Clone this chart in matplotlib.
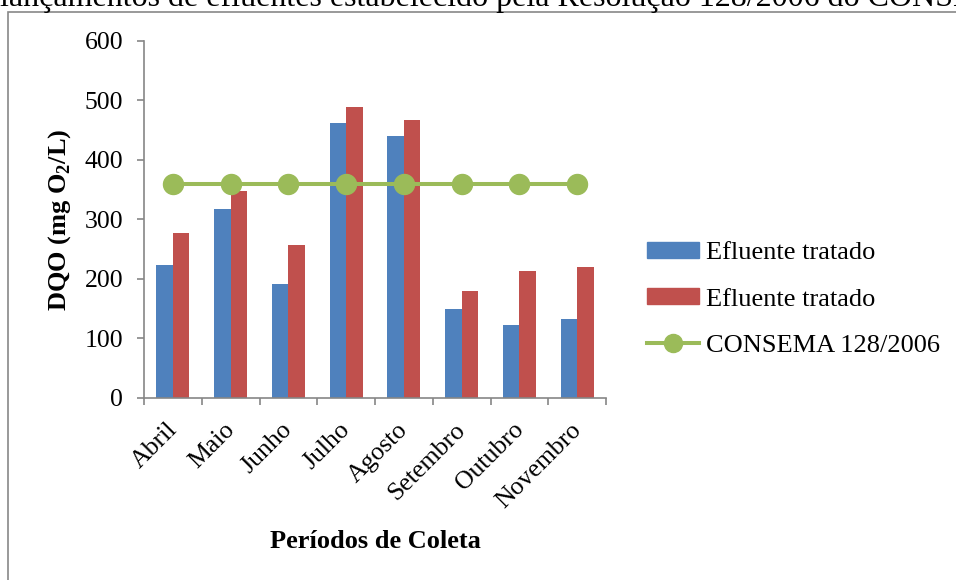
import matplotlib
matplotlib.use("Agg")
import numpy as np
from matplotlib import pyplot as plt
from matplotlib.patches import Rectangle, Patch
from matplotlib.lines import Line2D
from matplotlib.transforms import ScaledTranslation

# monthly DQO values (mg O2/L)
meses = ["Abril", "Maio", "Junho", "Julho", "Agosto", "Setembro", "Outubro", "Novembro"]
efluente_a = [224, 317, 192, 461, 440, 149, 123, 132]
efluente_b = [277, 347, 257, 489, 466, 179, 214, 220]
consema = [360, 360, 360, 360, 360, 360, 360, 360]
y_ticks = [0, 100, 200, 300, 400, 500, 600]

texto_topo = "lançamentos de efluentes estabelecido pela Resolução 128/2006 do CONSEMA"

plt.rcParams["font.family"] = ["Liberation Serif", "DejaVu Serif"]
plt.rcParams["mathtext.fontset"] = "custom"
plt.rcParams["mathtext.rm"] = "Liberation Serif:bold"
plt.rcParams["mathtext.bf"] = "Liberation Serif:bold"

AZUL = "#4F81BD"
VERMELHO = "#C0504D"
VERDE = "#9BBB59"
CINZA = "#868686"
W, H = 956, 580

fig = plt.figure(figsize=(W / 100, H / 100), dpi=100)
ax = fig.add_axes([144 / W, (H - 398) / H, (606 - 144) / W, (398 - 40.7) / H])

x = np.arange(len(meses))
larg = 0.286
ax.bar(x - larg / 2, efluente_a, larg, color=AZUL, zorder=2)
ax.bar(x + larg / 2, efluente_b, larg, color=VERMELHO, zorder=2)
ax.plot(x, consema, color=VERDE, lw=2.9, marker="o", ms=14.4, zorder=3)

ax.set_xlim(-0.5, len(meses) - 0.5)
ax.set_ylim(0, 600)
ax.set_yticks(y_ticks)
ax.tick_params(axis="y", direction="out", length=5, width=1.2, color=CINZA,
               labelsize=18.5, pad=10)

# category boundaries carry the tick marks, names sit at the centres
ax.set_xticks(np.arange(-0.5, len(meses)), minor=False)
ax.set_xticklabels([])
ax.set_xticks(x, minor=True)
ax.set_xticklabels(meses, minor=True, rotation=45, ha="right", va="top",
                   rotation_mode="anchor")
ax.tick_params(axis="x", which="major", direction="out", length=5, width=1.2, color=CINZA)
ax.tick_params(axis="x", which="minor", length=0, labelsize=18.5, pad=15)
shift = ScaledTranslation(-7 / 100, 0, fig.dpi_scale_trans)
for lbl in ax.get_xticklabels(minor=True):
    lbl.set_transform(lbl.get_transform() + shift)

for s in ["top", "right"]:
    ax.spines[s].set_visible(False)
for s in ["left", "bottom"]:
    ax.spines[s].set_color(CINZA)
    ax.spines[s].set_linewidth(1.2)

ax.set_ylabel(r"DQO (mg O$_{\mathbf{2}}$/L)", fontsize=19, fontweight="bold", va="center")
ax.yaxis.set_label_coords((60 - 144) / 462, 0.5)
ax.set_xlabel("Períodos de Coleta", fontsize=19, fontweight="bold", va="center")
ax.xaxis.set_label_coords(0.5, (398 - 541) / 357)

handles = [
    Patch(color=AZUL, label="Efluente tratado"),
    Patch(color=VERMELHO, label="Efluente tratado"),
    Line2D([], [], color=VERDE, lw=2.9, marker="o", ms=13, label="CONSEMA 128/2006"),
]
fig.legend(handles=handles, loc="upper left", bbox_to_anchor=(647 / W, 1 - 242 / H),
           frameon=False, fontsize=19, borderpad=0, borderaxespad=0,
           handlelength=1.97, handleheight=0.53, handletextpad=0.25, labelspacing=0.92)

# chart frame and the line of body text above it
fig.add_artist(Rectangle((8 / W, -0.1), 1.2, (H - 12) / H + 0.1, transform=fig.transFigure,
                         fill=False, ec="#888888", lw=1.2))
fig.text(0, 1 - 6 / H, texto_topo, fontsize=23, ha="left", va="baseline")

fig.savefig("out.png", dpi=100)
